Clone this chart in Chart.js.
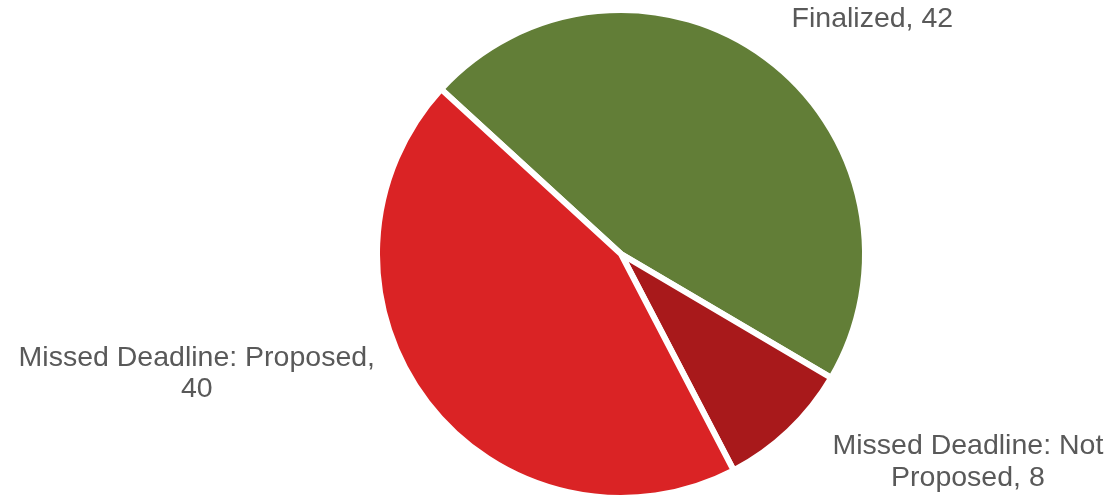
<!DOCTYPE html>
<html>
<head>
<meta charset="utf-8">
<script src="https://cdn.jsdelivr.net/npm/chart.js@4"></script>
<style>
  html, body { margin: 0; padding: 0; background: #fff; }
  #wrap { width: 1115px; height: 498px; position: relative; }
</style>
</head>
<body>
<div id="wrap"><canvas id="pie"></canvas></div>
<script>
const categories = ['Finalized', 'Missed Deadline: Not Proposed', 'Missed Deadline: Proposed'];
const counts = [42, 8, 40];
const colors = ['#627E37', '#A8191B', '#DA2325'];

// where each label box sits relative to the slice's outer edge, and how wide it may get before wrapping
const labelShift = [[108, -43], [181, 31], [-233, -29]];
const labelWrap = [400, 300, 390];

function wrapText(ctx, text, maxWidth) {
  const words = text.split(' ');
  const lines = [];
  let line = '';
  for (const w of words) {
    const test = line ? line + ' ' + w : w;
    if (line && ctx.measureText(test).width > maxWidth) {
      lines.push(line);
      line = w;
    } else {
      line = test;
    }
  }
  if (line) lines.push(line);
  return lines;
}

const outsideLabels = {
  id: 'outsideLabels',
  afterDatasetsDraw(chart) {
    const ctx = chart.ctx;
    const meta = chart.getDatasetMeta(0);
    ctx.save();
    ctx.font = '28.5px "Liberation Sans", Arial, sans-serif';
    ctx.fillStyle = '#595959';
    ctx.textAlign = 'center';
    ctx.textBaseline = 'alphabetic';
    const lineH = 31.5;
    const capH = 20;
    meta.data.forEach((arc, i) => {
      const mid = (arc.startAngle + arc.endAngle) / 2;
      const r = arc.outerRadius - 3;
      const ax = arc.x + Math.cos(mid) * r + labelShift[i][0];
      const ay = arc.y + Math.sin(mid) * r + labelShift[i][1];
      const lines = wrapText(ctx, `${categories[i]}, ${counts[i]}`, labelWrap[i]);
      const firstBase = ay + capH / 2 - (lines.length - 1) * lineH / 2;
      lines.forEach((ln, k) => {
        ctx.fillText(ln, ax, firstBase + k * lineH);
      });
    });
    ctx.restore();
  }
};

new Chart(document.getElementById('pie'), {
  type: 'pie',
  data: {
    labels: categories,
    datasets: [{
      data: counts,
      backgroundColor: colors,
      borderColor: '#ffffff',
      borderWidth: 6,
      hoverOffset: 0
    }]
  },
  options: {
    responsive: true,
    maintainAspectRatio: false,
    animation: false,
    rotation: -47.5,
    radius: 244,
    layout: { padding: { left: 127, top: 10, right: 0, bottom: 0 } },
    plugins: {
      legend: { display: false },
      tooltip: { enabled: false }
    }
  },
  plugins: [outsideLabels]
});
</script>
</body>
</html>
